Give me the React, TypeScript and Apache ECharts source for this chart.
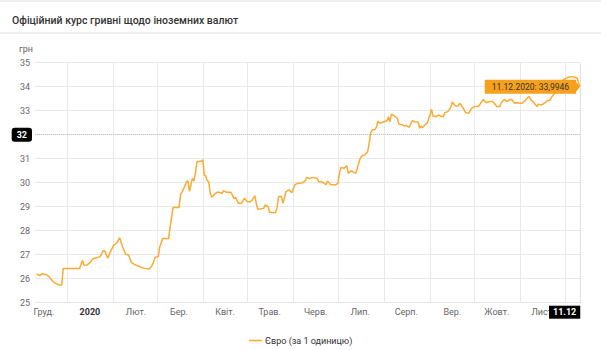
import React, { useEffect, useRef } from 'react';
import * as echarts from 'echarts';

const titleText = 'Офіційний курс гривні щодо іноземних валют';
const seriesName = 'Євро (за 1 одиницю)';
const yName = 'грн';

const dates = [
  '2019-12-11','2019-12-13','2019-12-15','2019-12-17','2019-12-19','2019-12-21','2019-12-23','2019-12-26','2019-12-28','2019-12-29',
  '2020-01-09','2020-01-11','2020-01-12','2020-01-14','2020-01-16','2020-01-18','2020-01-21','2020-01-23','2020-01-25','2020-01-26','2020-01-28','2020-01-30',
  '2020-02-01','2020-02-03','2020-02-05','2020-02-07','2020-02-09','2020-02-11','2020-02-13','2020-02-15','2020-02-17','2020-02-20','2020-02-22','2020-02-25','2020-02-27','2020-02-29',
  '2020-03-02','2020-03-03','2020-03-05','2020-03-09','2020-03-10','2020-03-12','2020-03-16','2020-03-17','2020-03-19','2020-03-21','2020-03-22','2020-03-23','2020-03-25','2020-03-26','2020-03-27','2020-03-28','2020-03-31',
  '2020-04-01','2020-04-02','2020-04-03','2020-04-04','2020-04-05','2020-04-06','2020-04-07','2020-04-09','2020-04-11','2020-04-14','2020-04-15','2020-04-17','2020-04-20','2020-04-22','2020-04-23','2020-04-25','2020-04-27','2020-04-29',
  '2020-05-01','2020-05-03','2020-05-04','2020-05-06','2020-05-07','2020-05-08','2020-05-12','2020-05-13','2020-05-15','2020-05-16','2020-05-20','2020-05-21','2020-05-22','2020-05-24','2020-05-25','2020-05-27','2020-05-29','2020-05-31',
  '2020-06-02','2020-06-04','2020-06-07','2020-06-09','2020-06-10','2020-06-12','2020-06-14','2020-06-17','2020-06-18','2020-06-20','2020-06-23','2020-06-24','2020-06-26','2020-06-29',
  '2020-07-01','2020-07-02','2020-07-03','2020-07-05','2020-07-07','2020-07-08','2020-07-10','2020-07-12','2020-07-13','2020-07-15','2020-07-16','2020-07-17','2020-07-19','2020-07-21','2020-07-22','2020-07-23','2020-07-24','2020-07-26','2020-07-27','2020-07-28','2020-07-29','2020-07-30',
  '2020-08-01','2020-08-03','2020-08-04','2020-08-05','2020-08-06','2020-08-08','2020-08-10','2020-08-11','2020-08-13','2020-08-15','2020-08-16','2020-08-18','2020-08-20','2020-08-22','2020-08-24','2020-08-25','2020-08-26','2020-08-27','2020-08-29','2020-08-30',
  '2020-09-01','2020-09-02','2020-09-03','2020-09-05','2020-09-07','2020-09-08','2020-09-10','2020-09-11','2020-09-13','2020-09-15','2020-09-16','2020-09-18','2020-09-20','2020-09-21','2020-09-23','2020-09-25','2020-09-27','2020-09-29',
  '2020-10-01','2020-10-02','2020-10-04','2020-10-05','2020-10-07','2020-10-09','2020-10-11','2020-10-13','2020-10-14','2020-10-16','2020-10-18','2020-10-19','2020-10-21','2020-10-23','2020-10-25','2020-10-26','2020-10-28','2020-10-29',
  '2020-11-01','2020-11-02','2020-11-04','2020-11-06','2020-11-07','2020-11-08','2020-11-10','2020-11-12','2020-11-13','2020-11-15','2020-11-17','2020-11-19','2020-11-21','2020-11-22','2020-11-25','2020-11-28','2020-11-30',
  '2020-12-03','2020-12-05','2020-12-07','2020-12-09','2020-12-11',
];

const rates = [
  26.20,26.13,26.21,26.18,26.11,25.97,25.83,25.74,25.74,26.42,
  26.42,26.77,26.56,26.57,26.67,26.83,26.88,26.93,27.18,27.15,26.85,27.15,
  27.40,27.47,27.71,27.33,27.02,26.99,26.67,26.60,26.54,26.46,26.43,26.40,26.57,26.89,
  26.92,27.33,27.67,27.67,28.17,28.97,28.97,29.49,29.73,30.04,30.08,29.64,30.18,30.08,30.39,30.86,30.90,
  30.95,30.32,30.28,30.08,30.04,29.56,29.39,29.53,29.61,29.56,29.67,29.60,29.60,29.35,29.39,29.14,29.14,29.35,
  29.21,29.21,29.25,29.46,29.14,28.89,28.93,29.07,29.00,28.77,28.75,28.97,29.42,29.42,29.14,29.63,29.70,29.58,
  29.92,29.97,30.00,30.08,30.22,30.17,30.22,30.18,30.04,30.04,29.92,30.07,29.92,29.90,
  29.97,30.39,30.64,30.60,30.70,30.39,30.50,30.42,30.39,30.81,31.01,31.11,31.15,31.29,31.64,32.06,32.20,32.22,32.33,32.57,32.47,32.50,
  32.54,32.58,32.75,32.54,32.86,32.78,32.68,32.44,32.43,32.36,32.39,32.31,32.58,32.54,32.53,32.27,32.36,32.29,32.44,32.47,
  32.82,33.06,32.78,32.75,32.82,32.78,32.75,32.92,32.96,33.14,33.36,33.20,33.20,33.31,33.14,32.92,32.89,33.10,
  33.17,33.17,33.20,33.31,33.47,33.33,33.38,33.38,33.33,33.17,33.17,33.33,33.47,33.38,33.47,33.47,33.31,33.33,
  33.31,33.31,33.42,33.56,33.58,33.45,33.33,33.17,33.27,33.24,33.31,33.42,33.45,33.58,33.80,34.10,34.30,
  34.39,34.42,34.39,34.36,33.9946,
];

const axisStart = '2019-12-10';
const axisEnd = '2020-12-11';
const monthStarts = ['2020-01-01','2020-02-01','2020-03-01','2020-04-01','2020-05-01','2020-06-01','2020-07-01','2020-08-01','2020-09-01','2020-10-01','2020-11-01','2020-12-01'];
const monthLabelDates = ['2019-12-16','2020-01-16','2020-02-16','2020-03-16','2020-04-16','2020-05-16','2020-06-16','2020-07-16','2020-08-16','2020-09-16','2020-10-16','2020-11-16'];
const monthLabels = ['Груд.','2020','Лют.','Бер.','Квіт.','Трав.','Черв.','Лип.','Серп.','Вер.','Жовт.','Лист.'];

const yMin = 25;
const yMax = 35;
const yInterval = 1;
const crosshairValue = 32;
const highlightDate = '2020-12-11';
const highlightValue = 33.9946;
const highlightText = '11.12.2020: 33,9946';
const highlightAxisText = '11.12';

const FONT = 'Roboto, "Noto Sans", sans-serif';

function ts(s: string): number {
  const [y, m, d] = s.split('-').map(Number);
  return new Date(y, m - 1, d).getTime();
}

export default function App() {
  const ref = useRef<HTMLDivElement>(null);
  useEffect(() => {
    if (!ref.current) return;
    const chart = echarts.init(ref.current, undefined, { renderer: 'svg' });
    const labelTimes = monthLabelDates.map(ts);
    const data = dates.map((d, i) => [ts(d), rates[i]]);
    const hx = ts(highlightDate);
    chart.setOption({
      animation: false,
      textStyle: { fontFamily: FONT },
      title: {
        text: titleText,
        left: 7,
        top: 10,
        textStyle: { fontSize: 10.5, fontWeight: 500, color: '#333', fontFamily: FONT },
      },
      graphic: [
        { type: 'rect', left: 0, top: 0, shape: { width: 601, height: 2 }, style: { fill: '#efefef' } },
        { type: 'rect', left: 0, top: 32, shape: { width: 601, height: 2 }, style: { fill: '#efefef' } },
      ],
      axisPointer: { triggerOn: 'none' },
      legend: {
        left: 244,
        top: 331,
        icon: 'rect',
        itemWidth: 13,
        itemHeight: 1.5,
        itemGap: 10,
        textStyle: { fontSize: 9, color: '#333', fontFamily: FONT, padding: [0, 0, 0, -2] },
        data: [seriesName],
      },
      grid: { left: 35, right: 21, top: 62.7, bottom: 47.3 },
      xAxis: {
        type: 'value',
        min: ts(axisStart),
        max: ts(axisEnd),
        axisLine: { show: true, lineStyle: { color: '#e6e6e6' } },
        axisTick: { show: false, customValues: monthStarts.map(ts) },
        splitLine: { show: true, lineStyle: { color: '#e9e9e9', width: 1 } },
        axisLabel: {
          customValues: labelTimes,
          margin: 5,
          fontSize: 9,
          color: '#666',
          fontFamily: FONT,
          showMinLabel: true,
          showMaxLabel: true,
          formatter: (v: number) => {
            const i = labelTimes.indexOf(v);
            const t = i >= 0 ? monthLabels[i] : '';
            return i === 1 ? '{b|' + t + '}' : t;
          },
          rich: { b: { fontWeight: 'bold', color: '#333', fontSize: 9, fontFamily: FONT } },
        },
        axisPointer: {
          show: true,
          status: 'show',
          value: hx,
          triggerTooltip: false,
          lineStyle: { type: 'dotted', color: '#c4c4c4', width: 1 },
          label: { show: false },
        },
      },
      yAxis: {
        type: 'value',
        min: yMin,
        max: yMax,
        interval: yInterval,
        name: yName,
        nameLocation: 'end',
        nameGap: 9,
        nameTextStyle: { fontSize: 9, color: '#666', align: 'right', padding: [0, 2, 0, 0], fontFamily: FONT },
        axisLine: { show: false },
        axisTick: { show: false },
        splitLine: { lineStyle: { color: '#e9e9e9' } },
        axisLabel: {
          fontSize: 9,
          color: '#666',
          margin: 5,
          fontFamily: FONT,
          formatter: (v: number) => (v === crosshairValue ? '' : String(v)),
        },
        axisPointer: {
          show: true,
          status: 'show',
          value: crosshairValue,
          triggerTooltip: false,
          lineStyle: { type: 'dotted', color: '#c4c4c4', width: 1 },
          label: {
            show: true,
            backgroundColor: '#000',
            color: '#fff',
            fontWeight: 'bold',
            fontSize: 9,
            padding: [3, 5, 2, 5],
            margin: 3,
            fontFamily: FONT,
            formatter: (p: any) => String(Math.round(p.value)),
          },
        },
      },
      series: [
        {
          name: seriesName,
          type: 'line',
          data,
          symbol: 'none',
          lineStyle: { color: '#fcaa32', width: 1.5 },
          itemStyle: { color: '#fcaa32' },
          markPoint: {
            silent: true,
            data: [
              {
                coord: [hx, highlightValue],
                symbol: 'path://M0,0L4,5L0,10Z',
                symbolSize: [4, 10],
                symbolOffset: [-2, 0],
                itemStyle: { color: '#f7a01c' },
                label: {
                  show: true,
                  position: 'left',
                  distance: 0,
                  formatter: highlightText,
                  backgroundColor: '#f7a01c',
                  color: '#333',
                  fontSize: 8.5,
                  padding: [3, 7, 2, 7],
                  fontFamily: FONT,
                },
              },
              {
                coord: [hx, yMin],
                symbol: 'rect',
                symbolSize: 0,
                itemStyle: { color: 'transparent' },
                label: {
                  show: true,
                  position: [-31, 3],
                  formatter: highlightAxisText,
                  backgroundColor: '#000',
                  color: '#fff',
                  fontWeight: 'bold',
                  fontSize: 9,
                  padding: [2, 4, 2, 4],
                  fontFamily: FONT,
                },
              },
            ],
          },
        },
      ],
    });
    return () => chart.dispose();
  }, []);
  return (
    <div style={{ position: 'absolute', left: 0, top: 0, width: 601, height: 350, background: '#fff' }}>
      <div ref={ref} style={{ width: 601, height: 350 }} />
    </div>
  );
}
